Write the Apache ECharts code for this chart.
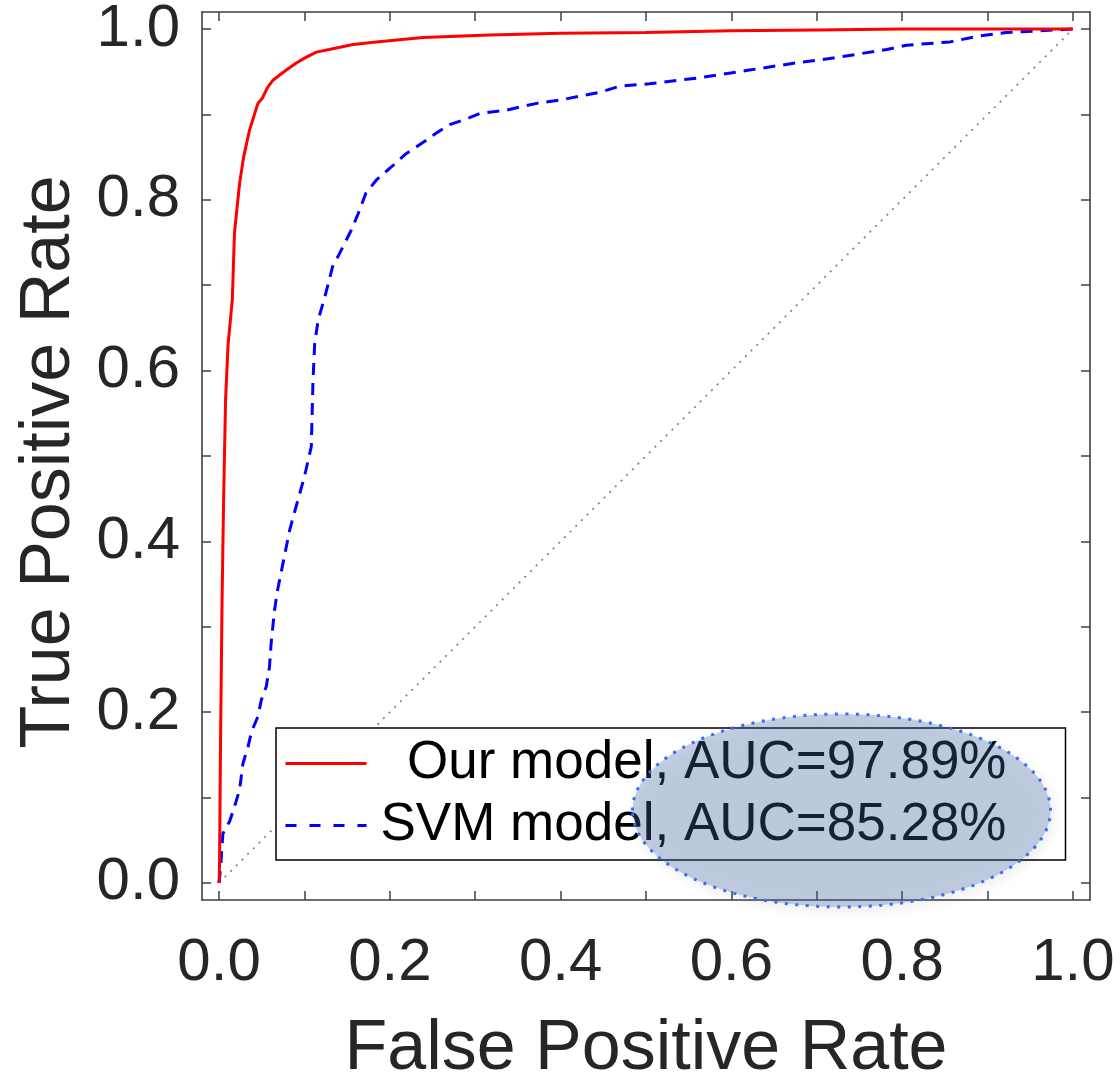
<!DOCTYPE html>
<html>
<head>
<meta charset="utf-8">
<script src="https://cdn.jsdelivr.net/npm/echarts@6/dist/echarts.min.js"></script>
<style>html,body{margin:0;padding:0;background:#fff}#c{width:1120px;height:1081px}</style>
</head>
<body>
<div id="c"></div>
<script>
// ---- data ----
const X_OUR = [0, 0.0005, 0.0018, 0.0035, 0.0053, 0.0076, 0.0105, 0.0155, 0.018, 0.024, 0.0287, 0.0357, 0.0455, 0.0506, 0.057, 0.063, 0.0787, 0.090, 0.100, 0.114, 0.129, 0.157, 0.184, 0.239, 0.317, 0.40, 0.50, 0.60, 0.70, 0.80, 0.90, 1.0];
const Y_OUR = [0, 0.02, 0.175, 0.331, 0.448, 0.566, 0.63, 0.683, 0.761, 0.819, 0.850, 0.882, 0.913, 0.919, 0.932, 0.940, 0.952, 0.960, 0.966, 0.973, 0.976, 0.982, 0.985, 0.990, 0.993, 0.995, 0.996, 0.998, 0.999, 1.0, 1.0, 1.0];
const X_SVM = [0, 0.002, 0.003, 0.0045, 0.0123, 0.018, 0.024, 0.028, 0.034, 0.038, 0.0455, 0.0494, 0.0553, 0.059, 0.061, 0.065, 0.0685, 0.0756, 0.0826, 0.090, 0.100, 0.108, 0.110, 0.112, 0.116, 0.124, 0.129, 0.133, 0.141, 0.149, 0.155, 0.163, 0.172, 0.184, 0.200, 0.219, 0.243, 0.254, 0.270, 0.290, 0.305, 0.336, 0.372, 0.40, 0.446, 0.469, 0.504, 0.563, 0.621, 0.680, 0.719, 0.750, 0.782, 0.805, 0.856, 0.891, 0.922, 0.961, 1.0];
const Y_SVM = [0, 0.02, 0.037, 0.058, 0.072, 0.089, 0.109, 0.140, 0.160, 0.177, 0.195, 0.214, 0.230, 0.253, 0.281, 0.320, 0.343, 0.378, 0.413, 0.44, 0.476, 0.511, 0.589, 0.632, 0.659, 0.687, 0.706, 0.722, 0.737, 0.753, 0.765, 0.784, 0.808, 0.823, 0.837, 0.854, 0.870, 0.878, 0.888, 0.895, 0.901, 0.905, 0.913, 0.917, 0.926, 0.933, 0.936, 0.943, 0.952, 0.961, 0.966, 0.971, 0.976, 0.981, 0.985, 0.992, 0.996, 0.998, 1.0];
const X_DIAG = [0, 1];
const Y_DIAG = [0, 1];
const SERIES_NAMES = ['Our model, AUC=97.89%', 'SVM model, AUC=85.28%'];
const TICK_VALUES = [0, 0.1, 0.2, 0.3, 0.4, 0.5, 0.6, 0.7, 0.8, 0.9, 1.0];
const LABEL_VALUES = [0, 0.2, 0.4, 0.6, 0.8, 1.0];
const X_NAME = 'False Positive Rate';
const Y_NAME = 'True Positive Rate';

const zip = (a, b) => a.map((v, i) => [v, b[i]]);
const FONT = 'Liberation Sans, Arial, Helvetica, sans-serif';
const AXC = '#404040';
const TXT = '#262626';

function axis(pos, showLabel, name) {
  const isX = pos === 'bottom' || pos === 'top';
  const a = {
    type: 'value', position: pos, min: -0.02, max: 1.02,
    splitLine: { show: false },
    axisLine: { show: true, onZero: false, lineStyle: { color: AXC, width: 1.6 } },
    axisTick: { show: true, inside: true, length: 9, customValues: TICK_VALUES, lineStyle: { color: AXC, width: 1.5 } },
    axisLabel: showLabel ? {
      show: true, customValues: LABEL_VALUES, fontSize: 60, fontFamily: FONT, color: TXT,
      margin: isX ? 33 : 22, formatter: v => v.toFixed(1)
    } : { show: false },
  };
  if (name) {
    a.name = name; a.nameLocation = 'middle';
    a.nameGap = isX ? 115 : 117;
    a.nameTextStyle = { fontSize: 70, fontFamily: FONT, color: TXT };
    if (!isX) a.nameTextStyle.padding = [0, 12, 0, 0];
  }
  return a;
}

const chart = echarts.init(document.getElementById('c'), null, { renderer: 'canvas' });
chart.setOption({
  animation: false,
  backgroundColor: '#fff',
  grid: { left: 202, right: 30, top: 12, bottom: 181, containLabel: false, outerBoundsMode: 'none' },
  xAxis: [axis('bottom', true, X_NAME), axis('top', false)],
  yAxis: [axis('left', true, Y_NAME), axis('right', false)],
  legend: {
    data: [
      { name: SERIES_NAMES[0] },
      { name: SERIES_NAMES[1], lineStyle: { type: [11, 13] } }
    ],
    orient: 'vertical', left: 276, top: 728,
    padding: [9, 59, 8, 8],
    itemWidth: 81, itemHeight: 14, itemGap: 9,
    backgroundColor: '#fff', borderColor: '#000', borderWidth: 1.5, borderRadius: 0,
    lineStyle: { width: 3 },
    itemStyle: { opacity: 0 },
    formatter: n => '{t|' + n + '}',
    textStyle: {
      fontSize: 53, fontFamily: FONT, color: '#000',
      rich: { t: { width: 635, align: 'right', fontSize: 53, lineHeight: 60, fontFamily: FONT, color: '#000' } }
    },
    selectedMode: false
  },
  series: [
    {
      name: 'chance', type: 'line', data: zip(X_DIAG, Y_DIAG), symbol: 'none', silent: true, z: 1,
      lineStyle: { color: '#808080', width: 1.7, type: [2, 6] }
    },
    {
      name: SERIES_NAMES[0], type: 'line', data: zip(X_OUR, Y_OUR), symbol: 'none', z: 3,
      itemStyle: { color: '#ff0000' }, lineStyle: { color: '#ff0000', width: 3 }
    },
    {
      name: SERIES_NAMES[1], type: 'line', data: zip(X_SVM, Y_SVM), symbol: 'none', z: 2,
      itemStyle: { color: '#0000ff' }, lineStyle: { color: '#0000ff', width: 3, type: [12, 8] }
    }
  ],
  graphic: [{
    type: 'ellipse', z: 100, silent: true,
    shape: { cx: 841.5, cy: 810.5, rx: 209, ry: 96.5 },
    style: {
      fill: 'rgba(70,110,175,0.3)', stroke: '#3a6df0', lineWidth: 3, lineDash: [3, 7.5],
      shadowBlur: 12, shadowColor: 'rgba(0,0,0,0.2)', shadowOffsetX: 3, shadowOffsetY: 4
    }
  }]
});
</script>
</body>
</html>
